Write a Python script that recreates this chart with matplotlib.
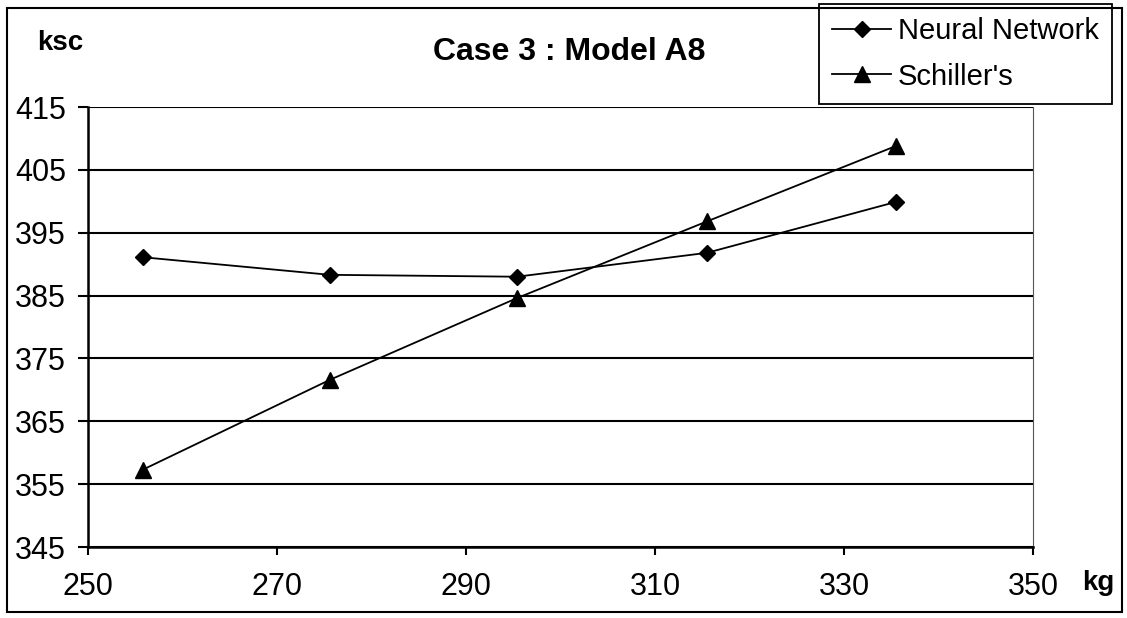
import matplotlib
matplotlib.use("Agg")
import matplotlib.pyplot as plt
from matplotlib.patches import Rectangle

plt.rcParams.update({
    "font.family": "sans-serif",
    "font.sans-serif": ["Liberation Sans", "DejaVu Sans"],
})

# data
mass_kg = [255.8, 275.6, 295.4, 315.5, 335.5]
neural_network = [391.1, 388.3, 388.0, 391.8, 399.9]
schillers = [357.3, 371.6, 384.6, 396.8, 408.8]

x_ticks = [250, 270, 290, 310, 330, 350]
y_ticks = [345, 355, 365, 375, 385, 395, 405, 415]

W, H = 1127, 618
fig = plt.figure(figsize=(W / 100, H / 100), dpi=100)
ax = fig.add_axes([88 / W, 1 - 547 / H, (1033 - 88) / W, (547 - 107) / H])

# outer chart frame
fig.patches.append(Rectangle((7 / W, 1 - 612 / H), (1122 - 7) / W, (612 - 8) / H,
                             transform=fig.transFigure, fill=False,
                             edgecolor="black", linewidth=1.5, zorder=0))

ax.plot(mass_kg, neural_network, color="black", linewidth=1.3, marker="D",
        markersize=8, markerfacecolor="black", label="Neural Network", zorder=3)
ax.plot(mass_kg, schillers, color="black", linewidth=1.3, marker="^",
        markersize=12, markerfacecolor="black", label="Schiller's", zorder=3)

ax.set_xlim(x_ticks[0], x_ticks[-1])
ax.set_ylim(y_ticks[0], y_ticks[-1])
ax.set_xticks(x_ticks)
ax.set_yticks(y_ticks)
ax.tick_params(axis="both", labelsize=22, color="black", direction="out")
ax.tick_params(axis="y", length=7, width=1.5, pad=9)
ax.tick_params(axis="x", length=6, width=1.5, pad=12)

for y in y_ticks:
    ax.axhline(y, color="black", linewidth=1.5, zorder=1)

ax.spines["left"].set_linewidth(1.8)
ax.spines["bottom"].set_linewidth(1.8)
ax.spines["top"].set_visible(False)
ax.spines["right"].set_linewidth(0.8)
ax.spines["right"].set_color("#555555")

fig.text(433 / W, 1 - 52 / H, "Case 3 : Model A8", fontsize=23,
         fontweight="bold", ha="left", va="center")
fig.text(37 / W, 1 - 43 / H, "ksc", fontsize=20, fontweight="bold",
         ha="left", va="center")
fig.text(1082 / W, 1 - 583 / H, "kg", fontsize=20, fontweight="bold",
         ha="left", va="center")

leg = ax.legend(loc="upper right", bbox_to_anchor=(1112 / W, 1 - 4 / H),
                bbox_transform=fig.transFigure, fontsize=21, frameon=True,
                fancybox=False, framealpha=1, edgecolor="black",
                handlelength=2.0, handletextpad=0.25, borderpad=0.45,
                labelspacing=0.6, borderaxespad=0)
leg.get_frame().set_linewidth(1.3)

fig.savefig("out.png", dpi=100, facecolor="white")
